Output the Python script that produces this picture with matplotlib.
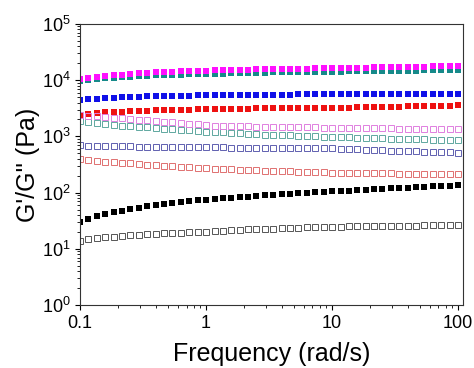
import matplotlib.pyplot as plt
from matplotlib.ticker import FixedLocator, LogLocator, NullFormatter

plt.rcParams["font.family"] = ["Liberation Sans", "DejaVu Sans"]

# Angular frequency (rad/s)
freq = [0.1, 0.116, 0.136, 0.158, 0.185, 0.215, 0.251, 0.293, 0.341, 0.398,
        0.464, 0.541, 0.631, 0.736, 0.858, 1.0, 1.17, 1.36, 1.58, 1.85,
        2.15, 2.51, 2.93, 3.41, 3.98, 4.64, 5.41, 6.31, 7.36, 8.58,
        10.0, 11.7, 13.6, 15.8, 18.5, 21.5, 25.1, 29.3, 34.1, 39.8,
        46.4, 54.1, 63.1, 73.6, 85.8, 100.0]

# Storage modulus G' (filled squares)
g1_black = [30, 34, 38, 42, 45, 48, 51, 54, 57, 60, 63, 66, 69, 71, 73, 75,
            77, 79, 81, 83, 85, 87, 89, 91, 93, 95, 97, 99, 101, 103,
            105, 107, 109, 111, 113, 115, 117, 119, 121, 123, 125, 127, 129,
            131, 133, 135]
g1_red = [2350, 2500, 2600, 2660, 2710, 2760, 2800, 2840, 2870, 2900, 2930,
          2960, 2980, 3000, 3020, 3040, 3060, 3080, 3100, 3110, 3120, 3140,
          3150, 3160, 3170, 3180, 3190, 3200, 3210, 3220, 3230, 3240, 3260,
          3280, 3300, 3320, 3340, 3360, 3380, 3400, 3420, 3440, 3470, 3500,
          3530, 3560]
g1_blue = [4400, 4550, 4650, 4750, 4850, 4930, 5000, 5060, 5120, 5170, 5210,
           5250, 5290, 5330, 5370, 5400, 5420, 5440, 5460, 5480, 5500, 5510,
           5520, 5530, 5540, 5550, 5560, 5570, 5580, 5590, 5600, 5610, 5620,
           5630, 5640, 5640, 5650, 5660, 5660, 5670, 5680, 5690, 5690, 5700,
           5700, 5710]
g1_teal = [9600, 10100, 10500, 10800, 11100, 11300, 11500, 11700, 11900,
           12100, 12300, 12400, 12500, 12700, 12800, 12900, 13000, 13100,
           13200, 13300, 13400, 13500, 13600, 13700, 13700, 13800, 13900,
           14000, 14000, 14100, 14200, 14200, 14300, 14400, 14400, 14500,
           14600, 14600, 14700, 14800, 14800, 14900, 15000, 15000, 15100, 15200]
g1_magenta = [10400, 11000, 11500, 11900, 12300, 12600, 12900, 13200, 13500,
              13700, 13900, 14100, 14300, 14500, 14700, 14800, 15000, 15100,
              15200, 15300, 15400, 15500, 15600, 15700, 15800, 15900, 16000,
              16100, 16200, 16300, 16300, 16400, 16500, 16600, 16700, 16800,
              16900, 17000, 17100, 17200, 17300, 17400, 17500, 17600, 17800,
              17900]

# Loss modulus G'' (open squares)
g2_black = [14, 14.8, 15.5, 16, 16.5, 17, 17.5, 17.8, 18.2, 18.5, 18.8, 19.2,
            19.5, 19.8, 20, 20.3, 20.7, 21, 21.4, 21.8, 22.1, 22.4, 22.7, 23,
            23.3, 23.5, 23.8, 24, 24.2, 24.5, 24.7, 24.9, 25, 25.2, 25.3,
            25.4, 25.6, 25.7, 25.8, 25.9, 26, 26.1, 26.2, 26.3, 26.4, 26.5]
g2_red = [395, 380, 368, 357, 347, 338, 330, 322, 315, 308, 301, 295, 289,
          283, 277, 272, 268, 264, 260, 256, 253, 250, 247, 244, 241, 238,
          235, 232, 230, 228, 226, 225, 224, 223, 222, 221, 220, 219, 218,
          217, 216, 216, 215, 215, 214, 214]
g2_blue = [690, 685, 680, 675, 670, 665, 662, 660, 657, 655, 652, 650, 647,
           645, 642, 640, 637, 635, 632, 630, 628, 626, 624, 622, 620, 618,
           616, 615, 614, 613, 612, 605, 598, 590, 582, 575, 568, 560, 553,
           547, 541, 535, 529, 524, 519, 515]
g2_teal = [1880, 1800, 1730, 1670, 1610, 1560, 1520, 1480, 1440, 1400, 1370,
           1340, 1310, 1280, 1250, 1220, 1200, 1180, 1160, 1140, 1120, 1100,
           1080, 1070, 1050, 1040, 1030, 1010, 1000, 990, 980, 970, 960, 950,
           940, 930, 920, 910, 905, 900, 890, 885, 880, 875, 870, 860]
g2_magenta = [2400, 2330, 2260, 2200, 2140, 2080, 2030, 1980, 1930, 1880,
              1830, 1780, 1730, 1680, 1630, 1580, 1560, 1540, 1520, 1510,
              1500, 1490, 1480, 1470, 1460, 1455, 1450, 1445, 1440, 1435,
              1430, 1425, 1420, 1410, 1400, 1395, 1390, 1385, 1380, 1375,
              1370, 1365, 1360, 1355, 1350, 1340]

filled = [(g1_black, "#000000"), (g1_red, "#ee1111"), (g1_blue, "#1010e8"),
          (g1_teal, "#168a8a"), (g1_magenta, "#ff10ff")]
opened = [(g2_black, "#555555"), (g2_red, "#e07070"), (g2_blue, "#6060b0"),
          (g2_teal, "#60a8a0"), (g2_magenta, "#e080e0")]

fig = plt.figure(figsize=(4.74, 3.68), dpi=100)
ax = fig.add_axes([0.169, 0.171, 0.808, 0.764])

for vals, c in filled:
    ax.plot(freq, vals, "s", color=c, ms=4.6, mew=0, ls="none")
for vals, c in opened:
    ax.plot(freq, vals, "s", mfc="none", mec=c, ms=4.4, mew=0.7, ls="none")

ax.set_xscale("log")
ax.set_yscale("log")
ax.set_xlim(0.1, 110)
ax.set_ylim(1, 1e5)

ax.xaxis.set_major_locator(FixedLocator([0.1, 1, 10, 100]))
ax.set_xticklabels(["0.1", "1", "10", "100"])
ax.xaxis.set_minor_locator(LogLocator(base=10, subs=range(2, 10)))
ax.xaxis.set_minor_formatter(NullFormatter())
ax.yaxis.set_minor_locator(LogLocator(base=10, subs=range(2, 10)))
ax.yaxis.set_minor_formatter(NullFormatter())

ax.tick_params(which="major", direction="out", length=3.5, width=0.8,
               labelsize=13, top=False, right=False)
ax.tick_params(which="minor", direction="out", length=2, width=0.6,
               top=False, right=False)
for s in ax.spines.values():
    s.set_linewidth(0.8)
    s.set_color("#333333")

ax.set_xlabel("Frequency (rad/s)", fontsize=18, labelpad=7)
ax.set_ylabel("G'/G'' (Pa)", fontsize=18, labelpad=1)

fig.savefig("out.png", dpi=100)
